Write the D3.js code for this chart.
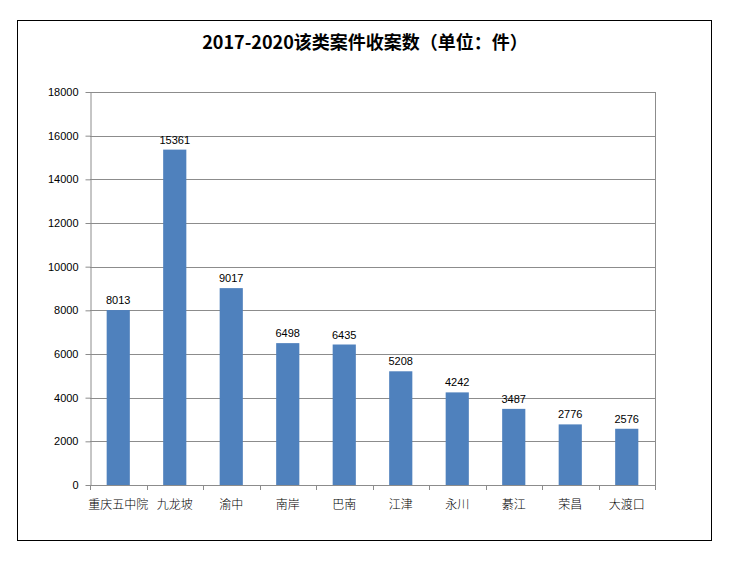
<!DOCTYPE html>
<html lang="zh">
<head>
  <meta charset="UTF-8">
  <title>2017-2020该类案件收案数</title>
  <script src="https://d3js.org/d3.v7.min.js"></script>
  <style>
    body { margin: 0; background: #fff; }
    svg { display: block; }
  </style>
</head>
<body>
  <div id="chart"></div>
  <script>
    // data
    const courts = ["重庆五中院", "九龙坡", "渝中", "南岸", "巴南", "江津", "永川", "綦江", "荣昌", "大渡口"];
    const cases = [8013, 15361, 9017, 6498, 6435, 5208, 4242, 3487, 2776, 2576];
    const yTicks = [0, 2000, 4000, 6000, 8000, 10000, 12000, 14000, 16000, 18000];

    const width = 731, height = 562;
    const plot = { left: 90, right: 655, top: 92, bottom: 485 };

    const svg = d3.select("#chart").append("svg")
      .attr("width", width)
      .attr("height", height);

    // outer frame
    svg.append("rect")
      .attr("x", 17.5).attr("y", 20.5)
      .attr("width", 694).attr("height", 520)
      .attr("fill", "#fff")
      .attr("stroke", "#000")
      .attr("stroke-width", 1);

    svg.append("text")
      .attr("x", 365).attr("y", 49)
      .attr("text-anchor", "middle")
      .style("font-family", "'Noto Sans CJK SC', sans-serif")
      .style("font-size", "18px")
      .style("font-weight", "bold")
      .attr("fill", "#000")
      .text("2017-2020该类案件收案数（单位：件）");

    const x = d3.scaleBand()
      .domain(courts)
      .range([plot.left, plot.right])
      .paddingInner(0.59)
      .paddingOuter(0.295);

    const xOuter = d3.scaleBand()
      .domain(courts)
      .range([plot.left, plot.right]);

    const y = d3.scaleLinear()
      .domain([0, 18000])
      .range([plot.bottom, plot.top]);

    // gridlines
    svg.append("g")
      .selectAll("line")
      .data(yTicks.slice(1))
      .enter()
      .append("line")
      .attr("x1", plot.left).attr("x2", plot.right)
      .attr("y1", d => Math.round(y(d)) + 0.5)
      .attr("y2", d => Math.round(y(d)) + 0.5)
      .attr("stroke", "#8c8c8c")
      .attr("stroke-width", 1);

    // right border of plot area
    svg.append("line")
      .attr("x1", plot.right + 0.5).attr("x2", plot.right + 0.5)
      .attr("y1", plot.top).attr("y2", plot.bottom)
      .attr("stroke", "#8c8c8c");

    // y axis
    const yAxis = svg.append("g")
      .attr("transform", `translate(${plot.left + 0.5},0)`)
      .call(d3.axisLeft(y).tickValues(yTicks).tickSize(5).tickSizeOuter(0).tickFormat(d3.format("d")));
    yAxis.select(".domain").attr("stroke", "#8c8c8c");
    yAxis.selectAll(".tick line").attr("stroke", "#8c8c8c");
    yAxis.selectAll(".tick text")
      .attr("x", -12)
      .attr("fill", "#000")
      .style("font-family", "'Liberation Sans Narrow', 'Liberation Sans', sans-serif")
      .style("font-size", "11px");

    // bars
    svg.selectAll("rect.bar")
      .data(cases)
      .enter()
      .append("rect")
      .attr("class", "bar")
      .attr("x", (d, i) => x(courts[i]))
      .attr("width", x.bandwidth())
      .attr("y", d => y(d))
      .attr("height", d => plot.bottom - y(d))
      .attr("fill", "#4f81bd");

    // value labels
    svg.selectAll("text.val")
      .data(cases)
      .enter()
      .append("text")
      .attr("class", "val")
      .attr("x", (d, i) => x(courts[i]) + x.bandwidth() / 2)
      .attr("y", d => y(d) - 6)
      .attr("text-anchor", "middle")
      .style("font-family", "'Liberation Sans Narrow', 'Liberation Sans', sans-serif")
      .style("font-size", "11px")
      .attr("fill", "#000")
      .text(d => d);

    // x axis line and tick marks at category boundaries
    svg.append("line")
      .attr("x1", plot.left).attr("x2", plot.right + 1)
      .attr("y1", plot.bottom + 0.5).attr("y2", plot.bottom + 0.5)
      .attr("stroke", "#8c8c8c");

    const bounds = courts.map(c => xOuter(c)).concat([plot.right]);
    svg.append("g")
      .selectAll("line")
      .data(bounds)
      .enter()
      .append("line")
      .attr("x1", d => Math.round(d) + 0.5).attr("x2", d => Math.round(d) + 0.5)
      .attr("y1", plot.bottom).attr("y2", plot.bottom + 5)
      .attr("stroke", "#8c8c8c");

    svg.selectAll("text.cat")
      .data(courts)
      .enter()
      .append("text")
      .attr("class", "cat")
      .attr("x", d => xOuter(d) + xOuter.bandwidth() / 2)
      .attr("y", 509)
      .attr("text-anchor", "middle")
      .style("font-family", "'Noto Sans CJK SC', sans-serif")
      .style("font-size", "12px")
      .style("font-weight", "300")
      .attr("fill", "#000")
      .text(d => d);
  </script>
</body>
</html>
